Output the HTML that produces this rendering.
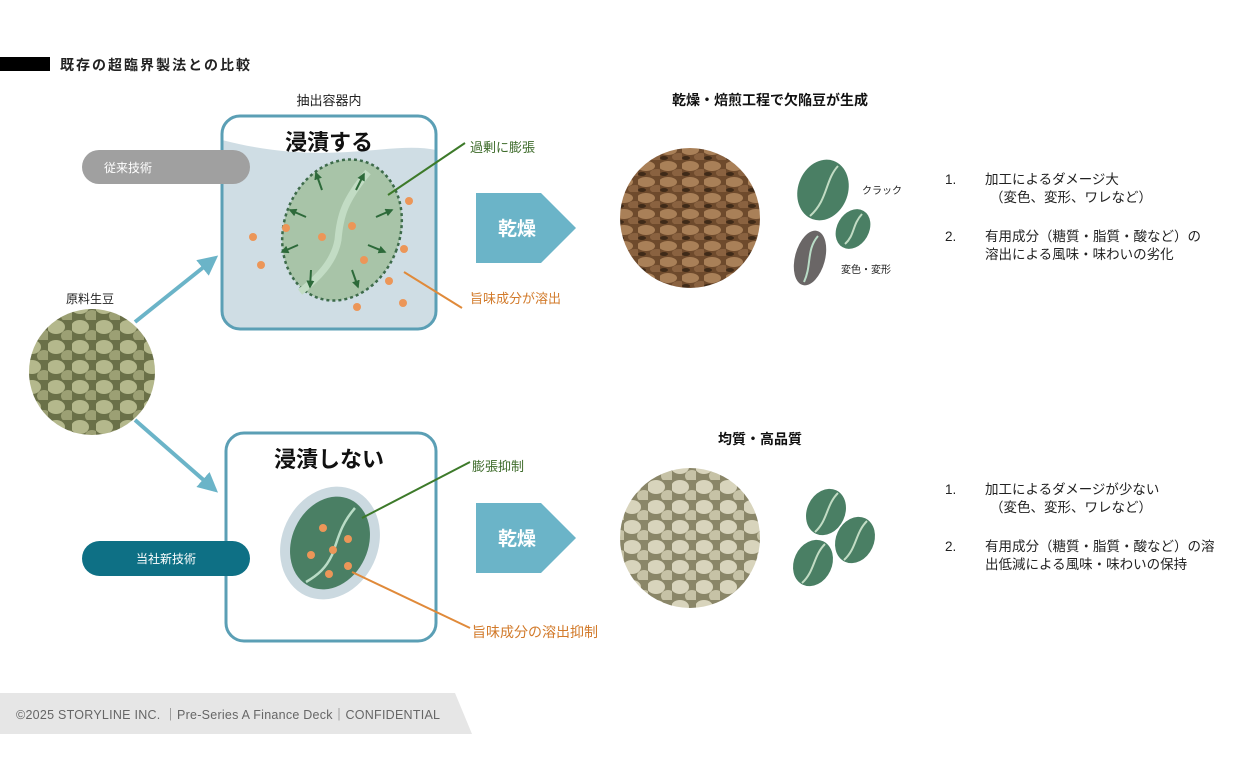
<!DOCTYPE html><html><head><meta charset="utf-8"><style>
body{margin:0;background:#fff}
svg{display:block;font-family:"Liberation Sans","Noto Sans CJK JP",sans-serif}
</style></head><body>
<svg width="1240" height="780" viewBox="0 0 1240 780">
<defs>
<pattern id="brown" width="22" height="16" patternUnits="userSpaceOnUse">
<rect width="22" height="16" fill="#6e4a2c"/>
<ellipse cx="8" cy="6" rx="9" ry="5" fill="#a98058"/>
<ellipse cx="19" cy="13" rx="7" ry="4" fill="#8a6240"/>
<ellipse cx="4" cy="14" rx="4" ry="2" fill="#3f2a18"/>
</pattern>
<pattern id="green" width="24" height="20" patternUnits="userSpaceOnUse">
<rect width="24" height="20" fill="#8a8668"/>
<ellipse cx="8" cy="7" rx="9" ry="7" fill="#d8d4bc"/>
<ellipse cx="20" cy="16" rx="7" ry="6" fill="#c6c2a6"/>
</pattern>
<pattern id="raw" width="24" height="20" patternUnits="userSpaceOnUse">
<rect width="24" height="20" fill="#6a7048"/>
<ellipse cx="8" cy="7" rx="9" ry="7" fill="#b4b88c"/>
<ellipse cx="20" cy="16" rx="7" ry="6" fill="#9ca074"/>
</pattern>
<marker id="ah" viewBox="0 0 10 10" refX="8" refY="5" markerWidth="5" markerHeight="5" orient="auto"><path d="M0,0L10,5L0,10z" fill="#6bb4c8"/></marker>
<marker id="gh" viewBox="0 0 10 10" refX="8" refY="5" markerWidth="4" markerHeight="4" orient="auto"><path d="M0,0L10,5L0,10z" fill="#2d6a3a"/></marker>
</defs>
<rect x="0" y="57" width="50" height="14" fill="#000"/>
<text x="60" y="70" font-size="14" font-weight="bold" fill="#222" textLength="190">既存の超臨界製法との比較</text>

<!-- raw beans -->
<text x="90" y="303" font-size="12" text-anchor="middle" fill="#222">原料生豆</text>
<circle cx="92" cy="372" r="63" fill="url(#raw)"/>
<line x1="135" y1="322" x2="215" y2="258" stroke="#6bb4c8" stroke-width="4" marker-end="url(#ah)"/>
<line x1="135" y1="420" x2="215" y2="490" stroke="#6bb4c8" stroke-width="4" marker-end="url(#ah)"/>

<!-- top box -->
<text x="329" y="105" font-size="13" text-anchor="middle" fill="#222">抽出容器内</text>
<rect x="222" y="116" width="214" height="213" rx="18" fill="#cfdde4"/>
<path d="M222,135 Q222,116 240,116 L418,116 Q436,116 436,134 L436,150 C390,140 330,168 222,140Z" fill="#fff"/>
<rect x="222" y="116" width="214" height="213" rx="18" fill="none" stroke="#5b9fb5" stroke-width="3"/>
<text x="329" y="150" font-size="22" font-weight="bold" text-anchor="middle" fill="#111">浸漬する</text>
<rect x="82" y="150" width="168" height="34" rx="17" fill="#a0a0a0"/>
<text x="128" y="172" font-size="12" fill="#fff" text-anchor="middle">従来技術</text>
<g transform="rotate(20 342 230)">
<ellipse cx="342" cy="230" rx="58" ry="72" fill="#a8c4a8" stroke="#3d6b4a" stroke-width="2.5" stroke-dasharray="3 3"/>
</g>
<path d="M368,172 C345,200 340,215 338,240 C334,262 318,278 300,292" stroke="#c2dcc4" stroke-width="7" fill="none"/>
<g stroke="#2d6a3a" stroke-width="2" marker-end="url(#gh)">
<line x1="322" y1="190" x2="316" y2="173"/><line x1="356" y1="190" x2="364" y2="174"/>
<line x1="306" y1="217" x2="290" y2="210"/><line x1="376" y1="217" x2="392" y2="210"/>
<line x1="298" y1="245" x2="282" y2="252"/><line x1="368" y1="245" x2="385" y2="252"/>
<line x1="311" y1="270" x2="310" y2="287"/><line x1="352" y1="270" x2="358" y2="287"/>
</g>
<g fill="#ec9658">
<circle cx="253" cy="237" r="4"/><circle cx="261" cy="265" r="4"/><circle cx="286" cy="228" r="4"/><circle cx="322" cy="237" r="4"/><circle cx="352" cy="226" r="4"/><circle cx="364" cy="260" r="4"/><circle cx="409" cy="201" r="4"/><circle cx="404" cy="249" r="4"/><circle cx="389" cy="281" r="4"/><circle cx="357" cy="307" r="4"/><circle cx="403" cy="303" r="4"/>
</g>
<line x1="388" y1="195" x2="465" y2="143" stroke="#3d7a2a" stroke-width="2"/>
<text x="470" y="152" font-size="13" fill="#3d6b2a">過剰に膨張</text>
<line x1="404" y1="272" x2="462" y2="308" stroke="#e08a3a" stroke-width="2"/>
<text x="470" y="303" font-size="13" fill="#d27a2a">旨味成分が溶出</text>

<!-- bottom box -->
<rect x="226" y="433" width="210" height="208" rx="18" fill="#fff" stroke="#5b9fb5" stroke-width="3"/>
<text x="329" y="467" font-size="22" font-weight="bold" text-anchor="middle" fill="#111">浸漬しない</text>
<rect x="82" y="541" width="168" height="35" rx="17.5" fill="#0e7085"/>
<text x="166" y="563" font-size="12" fill="#fff" text-anchor="middle">当社新技術</text>
<g transform="rotate(25 330 543)">
<ellipse cx="330" cy="543" rx="48" ry="58" fill="#cbd9e0"/>
<ellipse cx="330" cy="543" rx="38" ry="48" fill="#4a7f64"/>
</g>
<path d="M355,508 C340,525 338,540 332,555 C326,568 318,575 306,582" stroke="#b9dcc6" stroke-width="2.5" fill="none"/>
<g fill="#ec9658"><circle cx="323" cy="528" r="4"/><circle cx="348" cy="539" r="4"/><circle cx="333" cy="550" r="4"/><circle cx="311" cy="555" r="4"/><circle cx="348" cy="566" r="4"/><circle cx="329" cy="574" r="4"/></g>
<line x1="362" y1="518" x2="470" y2="462" stroke="#3d7a2a" stroke-width="2"/>
<text x="472" y="471" font-size="13" fill="#3d6b2a">膨張抑制</text>
<line x1="352" y1="572" x2="470" y2="628" stroke="#e08a3a" stroke-width="2"/>
<text x="472" y="637" font-size="14" fill="#d27a2a">旨味成分の溶出抑制</text>

<!-- arrows -->
<path d="M476,193 L541,193 L576,228 L541,263 L476,263Z" fill="#6bb4c8"/>
<text x="517" y="235" font-size="19" font-weight="bold" fill="#fff" text-anchor="middle">乾燥</text>
<path d="M476,503 L541,503 L576,538 L541,573 L476,573Z" fill="#6bb4c8"/>
<text x="517" y="545" font-size="19" font-weight="bold" fill="#fff" text-anchor="middle">乾燥</text>

<!-- top result -->
<text x="770" y="105" font-size="14" font-weight="bold" text-anchor="middle" fill="#111">乾燥・焙煎工程で欠陥豆が生成</text>
<circle cx="690" cy="218" r="70" fill="url(#brown)"/>
<g transform="rotate(20 823 190)"><ellipse cx="823" cy="190" rx="25" ry="31" fill="#4a7f64"/></g>
<path d="M838,166 C825,180 828,200 810,216" stroke="#c2dcc4" stroke-width="2" fill="none"/>
<g transform="rotate(30 853 229)"><ellipse cx="853" cy="229" rx="16" ry="21" fill="#4a7f64"/></g>
<path d="M862,214 C852,225 855,235 845,244" stroke="#c2dcc4" stroke-width="2" fill="none"/>
<g transform="rotate(15 810 258)"><ellipse cx="810" cy="258" rx="15" ry="28" fill="#6a6666"/></g>
<path d="M818,236 C806,250 812,265 804,282" stroke="#b9dcc6" stroke-width="2" fill="none"/>
<text x="862" y="194" font-size="10" fill="#222">クラック</text>
<text x="841" y="273" font-size="10" fill="#222">変色・変形</text>
<g font-size="13.5" fill="#222">
<text x="945" y="184">1.</text><text x="985" y="184">加工によるダメージ大</text><text x="990" y="202">（変色、変形、ワレなど）</text>
<text x="945" y="241">2.</text><text x="985" y="241">有用成分（糖質・脂質・酸など）の</text><text x="985" y="259">溶出による風味・味わいの劣化</text>
</g>

<!-- bottom result -->
<text x="760" y="444" font-size="14" font-weight="bold" text-anchor="middle" fill="#111">均質・高品質</text>
<circle cx="690" cy="538" r="70" fill="url(#green)"/>
<g fill="#4a7f64">
<g transform="rotate(25 826 512)"><ellipse cx="826" cy="512" rx="19" ry="24"/></g>
<g transform="rotate(25 855 540)"><ellipse cx="855" cy="540" rx="19" ry="24"/></g>
<g transform="rotate(25 813 563)"><ellipse cx="813" cy="563" rx="19" ry="24"/></g>
</g>
<g stroke="#c2dcc4" stroke-width="2" fill="none">
<path d="M838,493 C826,505 828,520 815,532"/><path d="M867,521 C855,533 857,548 844,560"/><path d="M825,544 C813,556 815,571 802,583"/>
</g>
<g font-size="13.5" fill="#222">
<text x="945" y="494">1.</text><text x="985" y="494">加工によるダメージが少ない</text><text x="990" y="512">（変色、変形、ワレなど）</text>
<text x="945" y="551">2.</text><text x="985" y="551">有用成分（糖質・脂質・酸など）の溶</text><text x="985" y="569">出低減による風味・味わいの保持</text>
</g>

<!-- footer -->
<path d="M0,693 L455,693 L472,734 L0,734Z" fill="#e6e6e6"/>
<text x="16" y="719" font-size="12.5" fill="#666" textLength="424">©2025 STORYLINE INC. ｜Pre-Series A Finance Deck｜CONFIDENTIAL</text>
</svg>
</body></html>
